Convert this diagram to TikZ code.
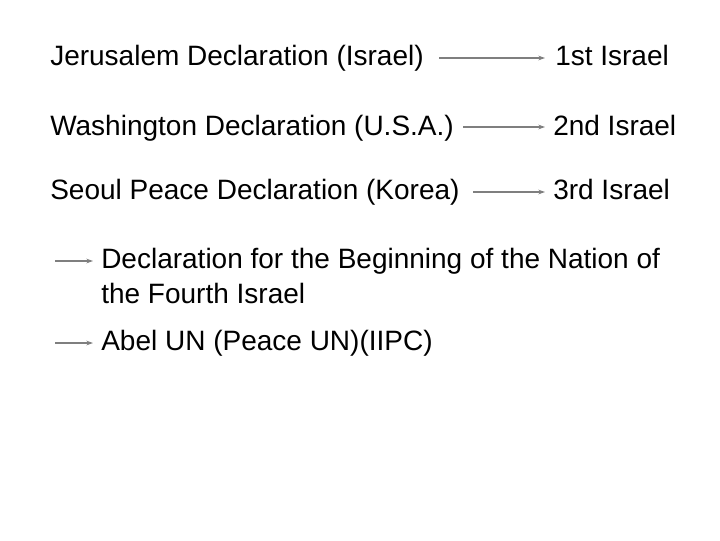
\documentclass[tikz,border=0pt]{standalone}
\usepackage{fontspec}
\setmainfont{Liberation Sans}
\usetikzlibrary{arrows.meta, positioning}
\definecolor{arrowgrey}{HTML}{7F7F7F}

\begin{document}
\begin{tikzpicture}[x=0.75pt, y=-0.75pt,
    label/.style={anchor=base west, inner sep=0pt, font=\fontsize{21}{26}\selectfont, align=left},
    flowarrow/.style={-{Stealth[length=5pt, width=3.5pt]}, draw=arrowgrey, line width=1.1pt}]

    \useasboundingbox (0,0) rectangle (720,540);

    % three declarations
    \node (jeru) [label] at (50,65) {Jerusalem Declaration (Israel)};
    \node (wash) [label] at (50,135) {Washington Declaration (U.S.A.)};
    \node (seoul) [label] at (50,199) {Seoul Peace Declaration (Korea)};

    \node (first) [label] at (555,65) {1st Israel};
    \node (second) [label] at (553,135) {2nd Israel};
    \node (third) [label] at (553,199) {3rd Israel};

    \coordinate (a1) at (439,58);
    \coordinate (a2) at (463,127);
    \coordinate (a3) at (473,192);
    \draw [flowarrow] (a1) -- ([xshift=-7.5pt]first.west |- a1);
    \draw [flowarrow] (a2) -- ([xshift=-6pt]second.west |- a2);
    \draw [flowarrow] (a3) -- ([xshift=-6pt]third.west |- a3);

    % what follows (base is on the last line here)
    \node (fourth) [label] at (101,303) {Declaration for the Beginning of the Nation of\\the Fourth Israel};
    \node (abel) [label] at (101,350) {Abel UN (Peace UN)(IIPC)};

    \coordinate (b1) at (55,261);
    \coordinate (b2) at (55,343);
    \draw [flowarrow] (b1) -- ([xshift=-6pt]fourth.west |- b1);
    \draw [flowarrow] (b2) -- ([xshift=-6pt]abel.west |- b2);
\end{tikzpicture}
\end{document}
